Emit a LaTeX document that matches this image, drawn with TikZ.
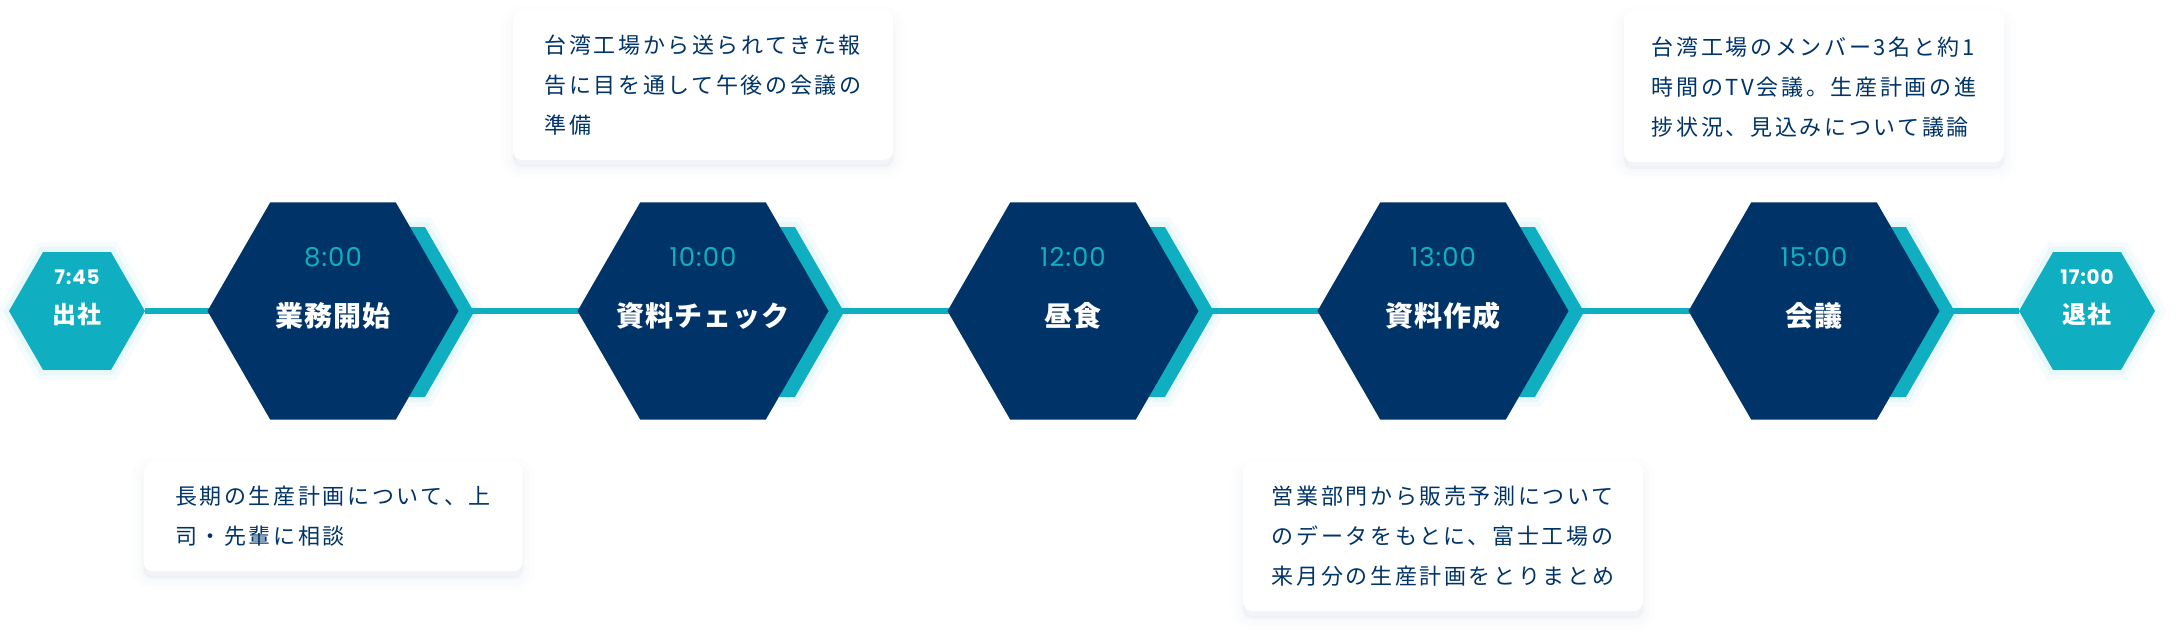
\documentclass[tikz,border=0pt]{standalone}
\usepackage{fontspec}
\setmainfont{Noto Sans CJK JP}
\newfontfamily\notefont{Noto Sans CJK JP}[LetterSpace=12]
\newfontfamily\headfont{Noto Sans CJK JP}[LetterSpace=4]
\newfontfamily\timefont{Poppins}[LetterSpace=4]
\usetikzlibrary{shapes.geometric,positioning,backgrounds}
\definecolor{navy}{HTML}{003469}
\definecolor{tealc}{HTML}{0FAEC1}
\definecolor{shadowc}{HTML}{8A9BB5}
\tikzset{
  hexbase/.style={regular polygon, regular polygon sides=6, inner sep=0pt},
  glow/.style={preaction={draw=tealc, line width=20pt, opacity=0.04},
               preaction={draw=tealc, line width=10pt, opacity=0.06}},
  mainhex/.style={hexbase, minimum size=251pt, fill=navy},
  backhex/.style={hexbase, minimum size=196pt, fill=tealc, glow},
  endhex/.style={hexbase, minimum size=136pt, fill=tealc, glow},
  softshadow/.style={
    preaction={draw=shadowc, fill=shadowc, line width=24pt, opacity=0.015, transform canvas={yshift=-7pt}},
    preaction={draw=shadowc, fill=shadowc, line width=14pt, opacity=0.025, transform canvas={yshift=-7pt}},
    preaction={draw=shadowc, fill=shadowc, line width=5pt, opacity=0.035, transform canvas={yshift=-7pt}}},
  notebox/.style={rectangle, rounded corners=9pt, fill=white, softshadow, align=left, text=navy,
    font=\notefont\fontsize{22}{40}\selectfont},
  timelbl/.style={anchor=base, text=tealc, font=\timefont\fontsize{26}{26}\selectfont},
  titlelbl/.style={anchor=base, text=white, font=\headfont\bfseries\fontsize{28}{28}\selectfont},
  endtime/.style={anchor=base, text=white, font=\timefont\bfseries\fontsize{20}{20}\selectfont},
  endtitle/.style={anchor=base, text=white, font=\headfont\bfseries\fontsize{24}{24}\selectfont},
  tline/.style={draw=tealc, line width=5.5pt},
}
\begin{document}
\begin{tikzpicture}[x=1pt,y=-1pt]
\useasboundingbox (0,0) rectangle (2177,635);
\foreach \x/\t/\lab/\n in {333/8:00/業務開始/1,703/10:00/資料チェック/2,1073/12:00/昼食/3,1443/13:00/資料作成/4,1814/15:00/会議/5}{
  \node[backhex] (b\n) at ({\x+43},312) {};
  \node[mainhex] (h\n) at (\x,311) {};
  \node[timelbl] (t\n) at (\x,266) {\t};
  \node[titlelbl] (l\n) at (\x,326) {\lab};
}
\node[endhex] (s0) at (77,311) {};
\node[endtime] (t0) at (77,284) {7:45};
\node[endtitle] (l0) at (77,323) {出社};
\node[endhex] (s6) at (2087,311) {};
\node[endtime] (t6) at (2087,284) {17:00};
\node[endtitle] (l6) at (2087,323) {退社};
\begin{scope}[on background layer]
  \draw[tline] (s0) -- (s6);
\end{scope}
% notes
\node[notebox, minimum width=380pt, minimum height=149pt, above=42pt of h2] (n2)
  {台湾工場から送られてきた報\\告に目を通して午後の会議の\\準備};
\node[notebox, minimum width=379pt, minimum height=109pt, below=42pt of h1] (n1)
  {長期の生産計画について、上\\司・先輩に相談};
\node[notebox, minimum width=400pt, minimum height=149pt, below=42pt of h4] (n4)
  {営業部門から販売予測について\\のデータをもとに、富士工場の\\来月分の生産計画をとりまとめ};
\node[notebox, minimum width=380pt, minimum height=150pt, above=40pt of h5] (n5)
  {台湾工場のメンバー3名と約1\\時間のTV会議。生産計画の進\\捗状況、見込みについて議論};
\end{tikzpicture}
\end{document}
